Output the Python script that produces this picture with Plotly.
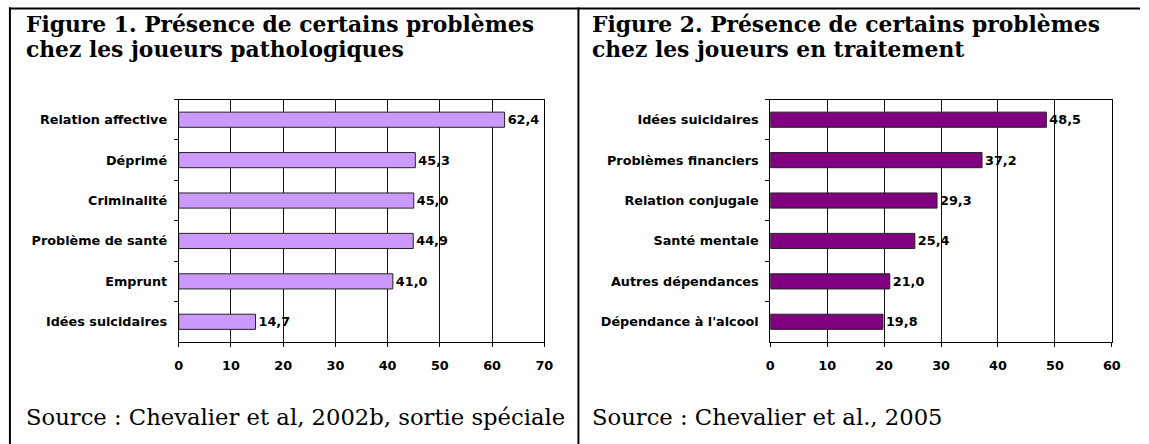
import plotly.graph_objects as go

W, H = 1149, 444

# ---- data ----
cats1 = ["Relation affective", "Déprimé", "Criminalité", "Problème de santé", "Emprunt", "Idées suicidaires"]
vals1 = [62.4, 45.3, 45.0, 44.9, 41.0, 14.7]
cats2 = ["Idées suicidaires", "Problèmes financiers", "Relation conjugale", "Santé mentale",
         "Autres dépendances", "Dépendance à l'alcool"]
vals2 = [48.5, 37.2, 29.3, 25.4, 21.0, 19.8]
ticks1 = [0, 10, 20, 30, 40, 50, 60, 70]
ticks2 = [0, 10, 20, 30, 40, 50, 60]
title1 = ["Figure 1. Présence de certains problèmes", "chez les joueurs pathologiques"]
title2 = ["Figure 2. Présence de certains problèmes", "chez les joueurs en traitement"]
source1 = "Source : Chevalier et al, 2002b, sortie spéciale"
source2 = "Source : Chevalier et al., 2005"

SANS = "DejaVu Sans"
SERIF = "DejaVu Serif"
lab_font = dict(family=SANS, size=12.8, color="black", weight="bold")

def px(x):
    return x / W

def py(y):
    return 1 - y / H

fig = go.Figure()
fig.add_trace(go.Bar(
    x=vals1, y=cats1, orientation="h", xaxis="x", yaxis="y",
    marker=dict(color="#CC99FF", line=dict(color="#222222", width=1)),
    texttemplate="%{x:.1f}", textposition="outside", textfont=lab_font,
    constraintext="none", cliponaxis=False, hoverinfo="skip", showlegend=False,
))
fig.add_trace(go.Bar(
    x=vals2, y=cats2, orientation="h", xaxis="x2", yaxis="y2",
    marker=dict(color="#800080", line=dict(color="#222222", width=1)),
    texttemplate="%{x:.1f}", textposition="outside", textfont=lab_font,
    constraintext="none", cliponaxis=False, hoverinfo="skip", showlegend=False,
))

def xax(dom, rng, tv, anchor):
    return dict(domain=dom, range=rng, tickvals=tv, showgrid=True, gridcolor="#111111", gridwidth=1,
                showline=True, linecolor="black", linewidth=1, mirror=True, zeroline=False,
                ticks="outside", ticklen=4, tickcolor="black", tickfont=lab_font,
                ticklabelstandoff=8, anchor=anchor, fixedrange=True)

def yax(dom, anchor):
    return dict(domain=dom, type="category", autorange="reversed", tickson="boundaries",
                ticks="outside", ticklen=4, tickcolor="black", showgrid=False,
                showline=True, linecolor="black", linewidth=1, mirror=True, zeroline=False,
                tickfont=lab_font, ticklabelstandoff=8, anchor=anchor, fixedrange=True)

ydom = [py(342), py(99.5)]
fig.update_layout(
    width=W, height=H, autosize=False,
    margin=dict(l=0, r=0, t=0, b=0),
    paper_bgcolor="white", plot_bgcolor="white",
    separators=", ",
    bargap=0.625,
    xaxis=xax([px(176.7), px(546.5)], [0, 70], ticks1, "y"),
    yaxis=yax(ydom, "x"),
    xaxis2=xax([px(775), px(1120.5)], [0, 60], ticks2, "y2"),
    yaxis2=yax(ydom, "x2"),
)

ann = []
tfont = dict(family=SERIF, size=21.8, color="black", weight="bold")
sfont = dict(family=SERIF, size=22.7, color="black")
for x0, lines, src in [(20, title1, source1), (593, title2, source2)]:
    for i, t in enumerate(lines):
        ann.append(dict(text=t, x=px(x0), y=py(24 + 26 * i), xref="paper", yref="paper",
                        xanchor="left", yanchor="middle", showarrow=False, font=tfont))
    ann.append(dict(text=src, x=px(x0), y=py(417), xref="paper", yref="paper",
                    xanchor="left", yanchor="middle", showarrow=False, font=sfont))
fig.update_layout(annotations=ann)

shapes = [
    dict(type="line", xref="paper", yref="paper", x0=px(5), x1=1, y0=py(8.5), y1=py(8.5),
         line=dict(color="black", width=2)),
    dict(type="line", xref="paper", yref="paper", x0=px(6), x1=px(6), y0=py(7.5), y1=0,
         line=dict(color="black", width=2)),
    dict(type="line", xref="paper", yref="paper", x0=px(581), x1=px(581), y0=py(7.5), y1=0,
         line=dict(color="black", width=2)),
]
fig.update_layout(shapes=shapes)

fig.write_html(
    "out.html",
    config=dict(displayModeBar=False),
    post_script="document.body.style.margin='0';document.body.style.overflow='hidden';",
)
